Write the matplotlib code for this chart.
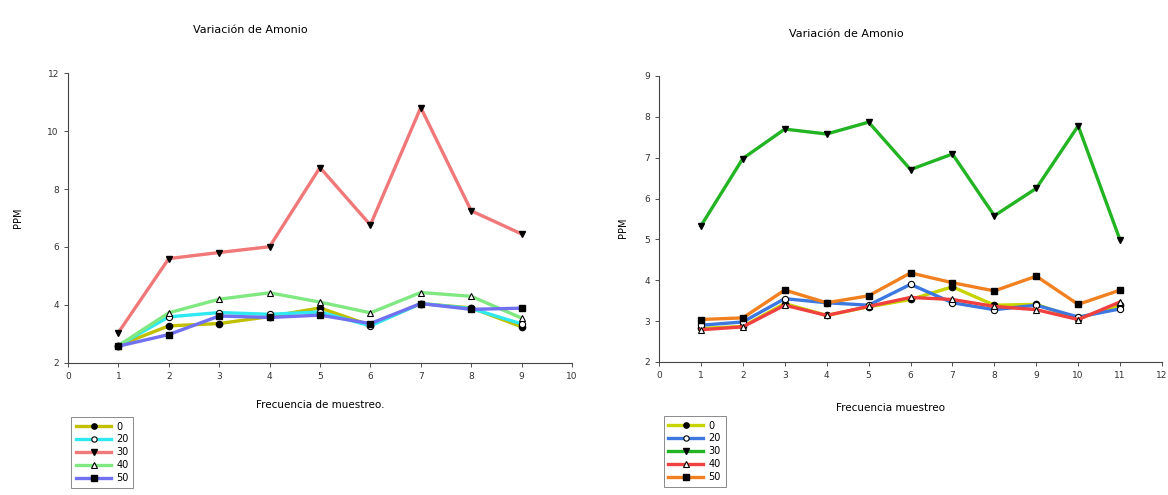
import numpy as np
from matplotlib import pyplot as plt

# --- left chart data ---
x_left = [1, 2, 3, 4, 5, 6, 7, 8, 9]
left_0 = [2.6, 3.28, 3.36, 3.6, 3.9, 3.3, 4.05, 3.9, 3.25]
left_20 = [2.6, 3.59, 3.74, 3.68, 3.76, 3.28, 4.05, 3.88, 3.35]
left_30 = [3.05, 5.6, 5.81, 6.01, 8.74, 6.76, 10.81, 7.25, 6.45]
left_40 = [2.6, 3.73, 4.2, 4.42, 4.1, 3.73, 4.43, 4.3, 3.55]
left_50 = [2.58, 2.98, 3.62, 3.57, 3.65, 3.36, 4.05, 3.85, 3.89]

# --- right chart data ---
x_right = [1, 2, 3, 4, 5, 6, 7, 8, 9, 10, 11]
right_0 = [2.82, 2.87, 3.43, 3.14, 3.35, 3.53, 3.84, 3.39, 3.41, 3.06, 3.39]
right_20 = [2.9, 2.98, 3.55, 3.45, 3.39, 3.9, 3.45, 3.28, 3.39, 3.1, 3.3]
right_30 = [5.33, 6.98, 7.70, 7.58, 7.87, 6.71, 7.09, 5.58, 6.25, 7.78, 4.98]
right_40 = [2.79, 2.86, 3.39, 3.14, 3.36, 3.58, 3.53, 3.36, 3.28, 3.04, 3.47]
right_50 = [3.04, 3.08, 3.76, 3.45, 3.62, 4.18, 3.94, 3.74, 4.1, 3.41, 3.76]

labels = ['0', '20', '30', '40', '50']

plt.rcParams['font.family'] = 'DejaVu Sans'
fig = plt.figure(figsize=(11.68, 4.95), dpi=100)

ax1 = fig.add_axes([0.0582, 0.2667, 0.4315, 0.5858])
ax2 = fig.add_axes([0.5642, 0.2687, 0.4307, 0.5778])

def style(ax, xmax, ylim, yticks):
    for s in ['top', 'right']:
        ax.spines[s].set_visible(False)
    for s in ['left', 'bottom']:
        ax.spines[s].set_color('#444444')
        ax.spines[s].set_linewidth(0.8)
    ax.set_xlim(0, xmax)
    ax.set_ylim(*ylim)
    ax.set_xticks(range(0, xmax + 1))
    ax.set_yticks(yticks)
    ax.tick_params(labelsize=6.5, colors='#333333', length=3, width=0.6)

lw = 2.4
ms = 4.5
l1 = [
    ax1.plot(x_left, left_0, color='#c0c000', lw=lw, marker='o', mfc='black', mec='black', ms=ms)[0],
    ax1.plot(x_left, left_20, color='#30e8f0', lw=lw, marker='o', mfc='white', mec='black', ms=ms, mew=0.8)[0],
    ax1.plot(x_left, left_30, color='#f07878', lw=lw, marker='v', mfc='black', mec='black', ms=ms + 0.5)[0],
    ax1.plot(x_left, left_40, color='#80e880', lw=lw, marker='^', mfc='white', mec='black', ms=ms + 0.5, mew=0.8)[0],
    ax1.plot(x_left, left_50, color='#7070f0', lw=lw, marker='s', mfc='black', mec='black', ms=ms)[0],
]
style(ax1, 10, (2, 12), range(2, 13, 2))

l2 = [
    ax2.plot(x_right, right_0, color='#c8d400', lw=lw, marker='o', mfc='black', mec='black', ms=ms)[0],
    ax2.plot(x_right, right_20, color='#3c78e0', lw=lw, marker='o', mfc='white', mec='black', ms=ms, mew=0.8)[0],
    ax2.plot(x_right, right_30, color='#22b422', lw=lw, marker='v', mfc='black', mec='black', ms=ms + 0.5)[0],
    ax2.plot(x_right, right_40, color='#f04040', lw=lw, marker='^', mfc='white', mec='black', ms=ms + 0.5, mew=0.8)[0],
    ax2.plot(x_right, right_50, color='#f08020', lw=lw, marker='s', mfc='black', mec='black', ms=ms)[0],
]
style(ax2, 12, (2, 9), range(2, 10))

fig.text(0.214, 0.94, 'Variación de Amonio', fontsize=8, ha='center', va='center')
fig.text(0.725, 0.932, 'Variación de Amonio', fontsize=8, ha='center', va='center')
fig.text(0.015, 0.56, 'PPM', fontsize=7, rotation=90, ha='center', va='center')
fig.text(0.533, 0.54, 'PPM', fontsize=7, rotation=90, ha='center', va='center')
fig.text(0.274, 0.182, 'Frecuencia de muestreo.', fontsize=7.5, ha='center', va='center')
fig.text(0.762, 0.176, 'Frecuencia muestreo', fontsize=7.5, ha='center', va='center')

leg_kw = dict(fontsize=7, frameon=True, fancybox=False, edgecolor='#555555',
              handlelength=3.6, handletextpad=0.5, labelspacing=0.3,
              borderpad=0.5, loc='upper left', markerscale=0.85)
lg1 = fig.legend(l1, labels, bbox_to_anchor=(0.057, 0.168), **leg_kw)
lg2 = fig.legend(l2, labels, bbox_to_anchor=(0.564, 0.17), **leg_kw)
for lg in (lg1, lg2):
    lg.get_frame().set_linewidth(0.6)

fig.savefig('out.png', dpi=100)
